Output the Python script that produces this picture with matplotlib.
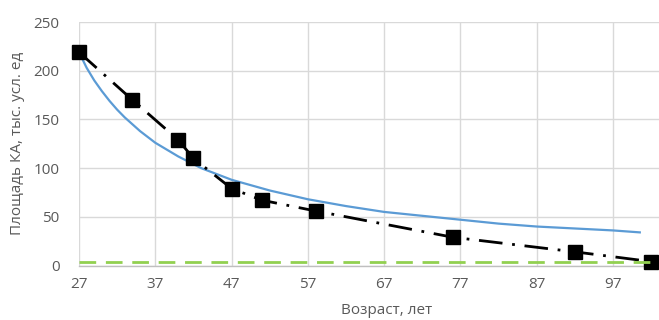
import matplotlib
matplotlib.use("Agg")
import matplotlib.pyplot as plt

# Observed area of spacecraft by age
age = [27, 34, 40, 42, 47, 51, 58, 76, 92, 102]
area = [219, 170, 129, 110, 79, 67, 56, 29, 14, 4]

# Trend curve
trend_age = [27, 28, 29, 30, 31, 32, 33, 34, 35, 37, 40, 43, 47, 52, 57, 62, 67, 72, 77, 82, 87, 92, 97, 100.5]
trend_area = [219, 203, 190, 179, 169, 160, 152, 145, 138, 126, 112, 100, 88, 77, 68, 61, 55, 51, 47, 43, 40, 38, 36, 34]

# Threshold level
threshold = 4

x_ticks = [27, 37, 47, 57, 67, 77, 87, 97]
y_ticks = [0, 50, 100, 150, 200, 250]

plt.rcParams['font.family'] = ['Open Sans', 'DejaVu Sans']
text_color = '#595959'

fig = plt.figure(figsize=(6.59, 3.2), dpi=100)
W, H = 659, 320
left, right, top, bottom = 79, 695, 22, 265.5
ax = fig.add_axes([left / W, 1 - bottom / H, (right - left) / W, (bottom - top) / H])

ax.plot(trend_age, trend_area, color='#5B9BD5', lw=1.6, zorder=3,
        solid_joinstyle='round')
ax.plot(age, area, color='black', lw=2.0, linestyle=(0, (8.5, 3.5, 1, 3.5)),
        marker='s', markersize=10, markerfacecolor='black', markeredgecolor='black',
        zorder=4, clip_on=False)
ax.axhline(threshold, color='#92D050', lw=2.0, linestyle=(0, (6, 3.5)), zorder=5)

ax.set_xlim(27, 27 + (right - left) / 7.63)
ax.set_ylim(0, 250)
ax.set_xticks(x_ticks)
ax.set_yticks(y_ticks)
ax.grid(True, color='#D9D9D9', lw=1.0)
ax.set_axisbelow(True)
for s in ['top', 'right', 'left']:
    ax.spines[s].set_visible(False)
ax.spines['bottom'].set_color('#BFBFBF')
ax.spines['bottom'].set_linewidth(1.0)
ax.tick_params(length=0, labelsize=11, labelcolor=text_color, pad=8)
ax.tick_params(axis='y', pad=14)

ax.set_xlabel('Возраст, лет', fontsize=11, color=text_color, labelpad=8)
ax.set_ylabel('Площадь КА, тыс. усл. ед', fontsize=11, color=text_color, labelpad=6)

fig.savefig('out.png', dpi=100)
